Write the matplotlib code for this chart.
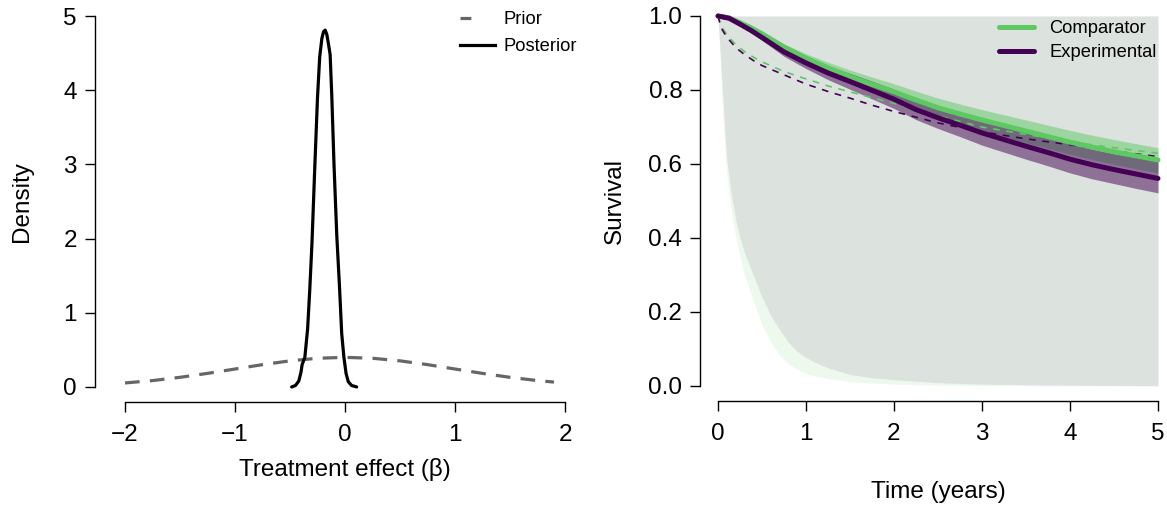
import matplotlib
matplotlib.use("Agg")
import matplotlib.pyplot as plt
from matplotlib.lines import Line2D

plt.rcParams['font.family'] = ['Liberation Sans', 'DejaVu Sans']

# ---------------- Left panel data ----------------
prior_x = [-2.0, -1.75, -1.5, -1.25, -1.0, -0.75, -0.5, -0.25, 0.0, 0.25, 0.5, 0.75, 1.0, 1.25, 1.5, 1.75, 1.9]
prior_density = [0.054, 0.086, 0.130, 0.183, 0.242, 0.301, 0.352, 0.387, 0.399, 0.387, 0.352, 0.301, 0.242, 0.183, 0.130, 0.086, 0.066]

post_x = [-0.485, -0.45, -0.42, -0.40, -0.39, -0.365, -0.34, -0.32, -0.30, -0.275, -0.25, -0.23, -0.21, -0.195,
          -0.18, -0.165, -0.15, -0.135, -0.12, -0.10, -0.075, -0.05, -0.03, -0.01, 0.01, 0.03, 0.06, 0.106]
post_density = [0.0, 0.02, 0.08, 0.20, 0.30, 0.40, 0.78, 1.32, 1.95, 2.95, 3.90, 4.45, 4.70, 4.79,
                4.81, 4.75, 4.62, 4.48, 3.92, 3.00, 2.05, 1.35, 0.72, 0.40, 0.18, 0.07, 0.02, 0.0]

beta_ticks = [-2, -1, 0, 1, 2]
density_ticks = [0, 1, 2, 3, 4, 5]

# ---------------- Right panel data ----------------
time_prior = [0, 0.01, 0.02, 0.04, 0.06, 0.08, 0.1, 0.15, 0.2, 0.25, 0.3, 0.4, 0.5, 0.6, 0.7, 0.8, 0.9,
              1.0, 1.1, 1.25, 1.5, 1.75, 2.0, 2.5, 3.0, 4.0, 5.0]
prior_upper = [1.0] * len(time_prior)
comp_prior_lower = [1.0, 0.95, 0.90, 0.80, 0.71, 0.63, 0.57, 0.47, 0.405, 0.35, 0.30, 0.232, 0.165, 0.118, 0.083, 0.060, 0.045,
                    0.034, 0.027, 0.020, 0.012, 0.008, 0.005, 0.002, 0.001, 0.0, 0.0]
exp_prior_lower = [1.0, 0.96, 0.92, 0.84, 0.76, 0.68, 0.61, 0.52, 0.45, 0.40, 0.36, 0.30, 0.24, 0.19, 0.152, 0.118, 0.093,
                   0.077, 0.064, 0.049, 0.031, 0.022, 0.017, 0.009, 0.005, 0.002, 0.001]

time_dash = [0, 0.02, 0.05, 0.1, 0.15, 0.2, 0.3, 0.4, 0.5, 0.75, 1.0, 1.25, 1.5, 1.75, 2.0, 2.5, 3.0, 3.5, 4.0, 4.5, 5.0]
comp_prior_median = [1.0, 0.985, 0.968, 0.950, 0.936, 0.923, 0.904, 0.889, 0.876, 0.850, 0.830, 0.811, 0.795, 0.779, 0.764, 0.730, 0.700, 0.680, 0.660, 0.644, 0.629]
exp_prior_median = [1.0, 0.982, 0.962, 0.943, 0.929, 0.915, 0.896, 0.880, 0.866, 0.841, 0.816, 0.796, 0.778, 0.759, 0.742, 0.711, 0.687, 0.668, 0.652, 0.635, 0.620]

time_post = [0, 0.125, 0.25, 0.375, 0.5, 0.75, 1.0, 1.25, 1.5, 1.75, 2.0, 2.25, 2.5, 2.75, 3.0, 3.25, 3.5, 3.75, 4.0, 4.25, 4.5, 4.75, 5.0]
comp_median = [1.0, 0.995, 0.982, 0.968, 0.952, 0.916, 0.886, 0.860, 0.836, 0.815, 0.795, 0.773, 0.752, 0.735, 0.719, 0.704, 0.689, 0.674, 0.659, 0.646, 0.633, 0.622, 0.611]
comp_upper = [1.0, 0.996, 0.985, 0.972, 0.958, 0.925, 0.898, 0.875, 0.854, 0.835, 0.817, 0.797, 0.778, 0.762, 0.747, 0.733, 0.719, 0.705, 0.691, 0.678, 0.666, 0.655, 0.644]
comp_lower = [1.0, 0.993, 0.978, 0.962, 0.945, 0.905, 0.872, 0.843, 0.817, 0.793, 0.771, 0.747, 0.725, 0.706, 0.689, 0.673, 0.657, 0.642, 0.626, 0.612, 0.599, 0.587, 0.576]
exp_median = [1.0, 0.994, 0.978, 0.961, 0.942, 0.903, 0.873, 0.846, 0.823, 0.799, 0.775, 0.747, 0.725, 0.705, 0.684, 0.666, 0.648, 0.631, 0.613, 0.598, 0.585, 0.573, 0.561]
exp_upper = [1.0, 0.995, 0.982, 0.967, 0.950, 0.915, 0.889, 0.865, 0.845, 0.824, 0.802, 0.776, 0.756, 0.738, 0.719, 0.703, 0.687, 0.671, 0.654, 0.640, 0.628, 0.618, 0.607]
exp_lower = [1.0, 0.992, 0.974, 0.955, 0.934, 0.891, 0.858, 0.828, 0.802, 0.776, 0.750, 0.720, 0.696, 0.674, 0.651, 0.632, 0.613, 0.595, 0.576, 0.560, 0.547, 0.534, 0.522]

time_ticks = [0, 1, 2, 3, 4, 5]
surv_ticks = [0.0, 0.2, 0.4, 0.6, 0.8, 1.0]
surv_labels = ["0.0", "0.2", "0.4", "0.6", "0.8", "1.0"]

GREEN = "#5ec962"
PURPLE = "#440154"
GREY = "#666666"

W, H = 1167, 505
fig = plt.figure(figsize=(W / 100, H / 100), dpi=100)

FS = 17.5
LFS = 13.2

def px_axes(left, right, top, bottom):
    return fig.add_axes([left / W, 1 - bottom / H, (right - left) / W, (bottom - top) / H])

def style(ax):
    for s in ("top", "right"):
        ax.spines[s].set_visible(False)
    for s in ("left", "bottom"):
        ax.spines[s].set_linewidth(1.0)
        ax.spines[s].set_color("black")
    ax.patch.set_alpha(0)
    ax.tick_params(axis="both", length=7, width=1.0, labelsize=FS, color="black")
    ax.tick_params(axis="x", pad=9)
    ax.tick_params(axis="y", pad=6)

# ---------------- Left panel ----------------
ax1 = px_axes(95, 595, 1.2, 401.8)
ax1.set_xlim(-2.2727, 2.2727)
ax1.set_ylim(-0.2, 5.2)
style(ax1)
ax1.plot(prior_x, prior_density, color=GREY, lw=2.3, dashes=(4.6, 3.2))
ax1.plot(post_x, post_density, color="black", lw=2.3, solid_joinstyle="round", solid_capstyle="round")
ax1.set_xticks(beta_ticks)
ax1.set_yticks(density_ticks)
ax1.spines["left"].set_bounds(0, 5)
ax1.spines["bottom"].set_bounds(-2, 2)
ax1.set_xlabel("Treatment effect (β)", fontsize=FS, va="center")
ax1.xaxis.set_label_coords(0.5, -0.170)
ax1.set_ylabel("Density", fontsize=FS, va="center")
ax1.yaxis.set_label_coords(-0.146, 0.5)

h1 = [Line2D([], [], color=GREY, lw=2.3, dashes=(3.4, 20)),
      Line2D([], [], color="black", lw=2.3)]
ax1.legend(h1, ["Prior", "Posterior"], loc="upper right", frameon=False, fontsize=LFS,
           bbox_to_anchor=(577 / W, 1 - 11 / H), bbox_transform=fig.transFigure,
           borderpad=0, borderaxespad=0, handlelength=1.9, handletextpad=0.45, labelspacing=0.55)

# ---------------- Right panel ----------------
ax2 = px_axes(700.4, 1175.6, 1.2, 400.8)
ax2.set_xlim(-0.2, 5.2)
ax2.set_ylim(-0.04, 1.04)
style(ax2)
ax2.fill_between(time_prior, exp_prior_lower, prior_upper, color=PURPLE, alpha=0.1, lw=0)
ax2.fill_between(time_prior, comp_prior_lower, prior_upper, color=GREEN, alpha=0.1, lw=0)
ax2.plot(time_dash, comp_prior_median, color=GREEN, lw=1.2, dashes=(4, 4))
ax2.plot(time_dash, exp_prior_median, color=PURPLE, lw=1.2, dashes=(4, 4))
ax2.fill_between(time_post, comp_lower, comp_upper, color=GREEN, alpha=0.5, lw=0)
ax2.fill_between(time_post, exp_lower, exp_upper, color=PURPLE, alpha=0.5, lw=0)
ax2.plot(time_post, comp_median, color=GREEN, lw=3.6, solid_capstyle="round", label="Comparator")
ax2.plot(time_post, exp_median, color=PURPLE, lw=3.6, solid_capstyle="round", label="Experimental")
ax2.set_xticks(time_ticks)
ax2.set_yticks(surv_ticks)
ax2.set_yticklabels(surv_labels)
ax2.spines["left"].set_bounds(0, 1)
ax2.spines["bottom"].set_bounds(0, 5)
ax2.set_xlabel("Time (years)", fontsize=FS, va="center")
ax2.xaxis.set_label_coords(0.5, -0.228)
ax2.set_ylabel("Survival", fontsize=FS, va="center")
ax2.yaxis.set_label_coords(-0.18, 0.5)
ax2.legend(loc="upper right", frameon=False, fontsize=LFS,
           bbox_to_anchor=(1157 / W, 1 - 20 / H), bbox_transform=fig.transFigure,
           borderpad=0, borderaxespad=0, handlelength=1.9, handletextpad=0.85, labelspacing=0.38)

fig.savefig("out.png", dpi=100)
